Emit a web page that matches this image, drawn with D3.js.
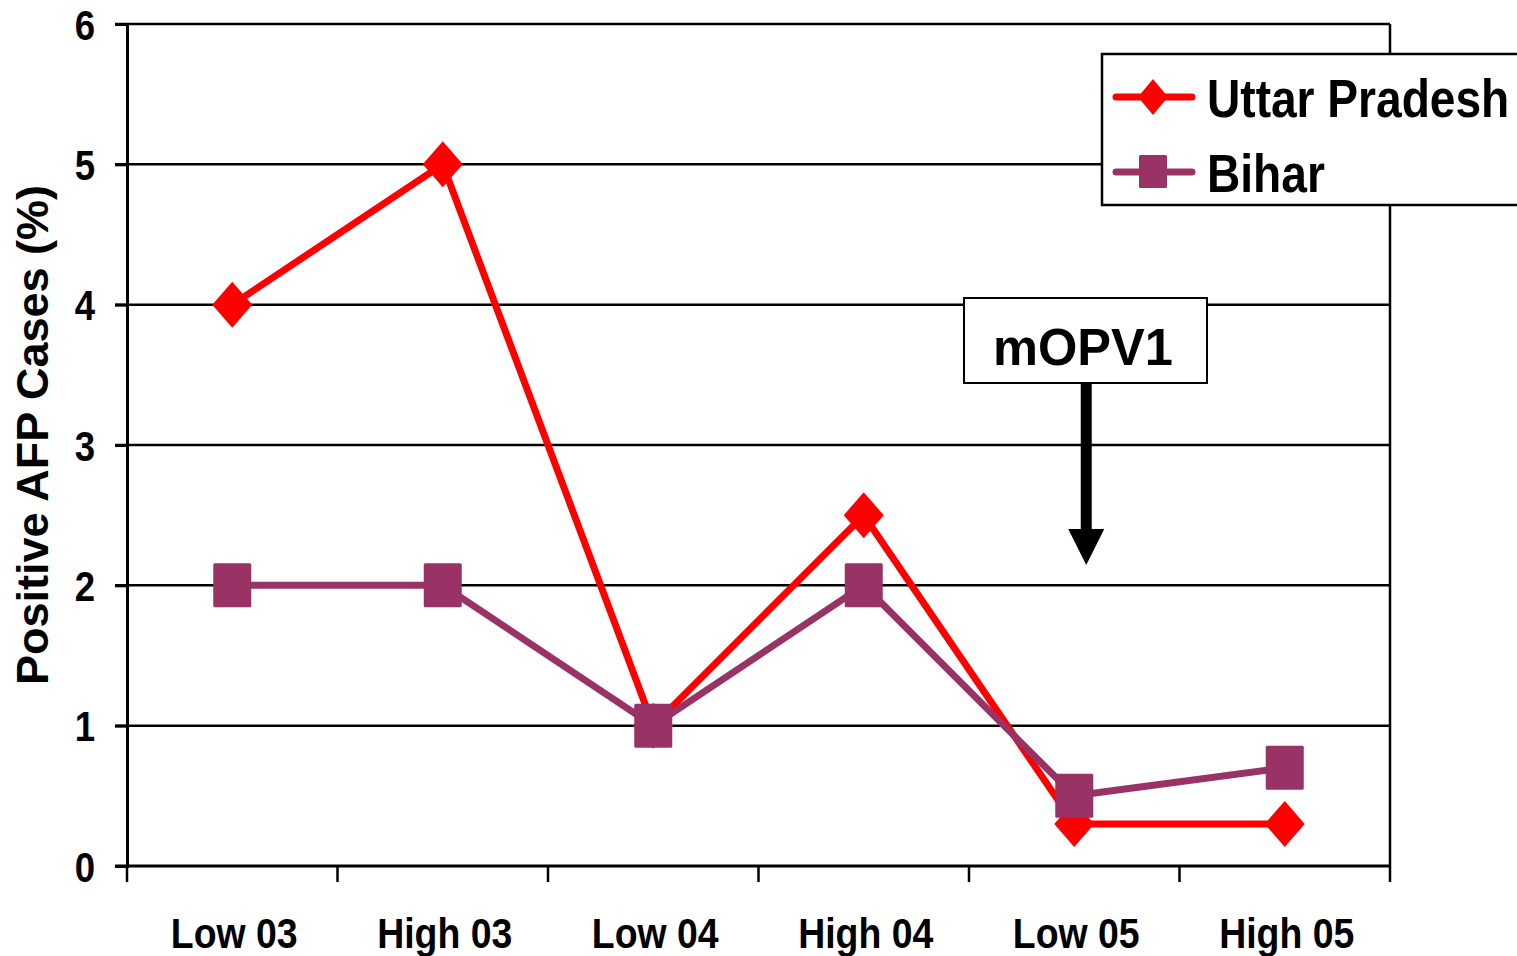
<!DOCTYPE html>
<html>
<head>
<meta charset="utf-8">
<script src="https://cdn.jsdelivr.net/npm/d3@7"></script>
<style>
  html, body { margin: 0; padding: 0; background: #fff; }
  svg { display: block; }
  text { font-family: Arial, "Liberation Sans", sans-serif; font-weight: bold; fill: #000; }
</style>
</head>
<body>
<svg id="chart" width="1517" height="956"></svg>
<script>
// Survey rounds along the x axis
const categories = ["Low 03", "High 03", "Low 04", "High 04", "Low 05", "High 05"];
// Share of AFP cases testing positive, per state
const uttarPradesh = [4, 5, 1, 2.5, 0.3, 0.3];
const bihar = [2, 2, 1, 2, 0.5, 0.7];
const seriesNames = ["Uttar Pradesh", "Bihar"];
const yTicks = [0, 1, 2, 3, 4, 5, 6];
const yTitle = "Positive AFP Cases (%)";
const annotation = "mOPV1";
const annotationAt = "Low 05";

const RED = "#ff0000";
const PURPLE = "#993366";
const SQUEEZE = 0.87; // narrow bold lettering

const svg = d3.select("#chart");
const L = 127, R = 1390, T = 24, B = 866;

const x = d3.scaleBand().domain(categories).range([L, R]);
const y = d3.scaleLinear().domain([0, 6]).range([B, T]);

// text helper with horizontal condensing
function label(g, str, px, py, size, anchor) {
  return g.append("text")
    .attr("transform", `translate(${px},${py}) scale(${SQUEEZE},1)`)
    .attr("text-anchor", anchor || "middle")
    .attr("font-size", size)
    .text(str);
}

// horizontal gridlines (with left tick stubs)
svg.append("g").selectAll("line").data(yTicks.filter(d => d > 0)).join("line")
  .attr("x1", L - 12).attr("x2", R)
  .attr("y1", d => y(d)).attr("y2", d => y(d))
  .attr("stroke", "#000").attr("stroke-width", 2.5);

// right border of the plot
svg.append("line").attr("x1", R).attr("x2", R).attr("y1", T).attr("y2", B)
  .attr("stroke", "#000").attr("stroke-width", 2.5);

// y axis
const yAxis = svg.append("g").attr("transform", `translate(${L},0)`)
  .call(d3.axisLeft(y).tickValues(yTicks).tickSize(12).tickPadding(0).tickFormat(d3.format("d")));
yAxis.select(".domain").attr("stroke", "#000").attr("stroke-width", 3);
yAxis.selectAll(".tick line").attr("stroke", "#000").attr("stroke-width", 3);
yAxis.selectAll(".tick text").remove();
yAxis.selectAll(".tick").each(function(d) {
  label(d3.select(this), d, -32, 15, 42, "end");
});

// x axis: boundary ticks between categories
const boundaries = categories.map(c => x(c)).concat([R]);
svg.append("line").attr("x1", L - 12).attr("x2", R).attr("y1", B).attr("y2", B)
  .attr("stroke", "#000").attr("stroke-width", 3);
svg.append("g").selectAll("line").data(boundaries).join("line")
  .attr("x1", d => d).attr("x2", d => d)
  .attr("y1", B).attr("y2", B + 16)
  .attr("stroke", "#000").attr("stroke-width", 2.5);
const xl = svg.append("g");
categories.forEach(c => label(xl, c, x(c) + x.bandwidth() / 2 + 2, 948, 43));

// y axis title
svg.append("text")
  .attr("transform", `translate(48,${(185 + 685) / 2}) rotate(-90)`)
  .attr("text-anchor", "middle")
  .attr("font-size", 44)
  .attr("textLength", 500).attr("lengthAdjust", "spacingAndGlyphs")
  .text(yTitle);

const cx = d => x(d) + x.bandwidth() / 2;
const line = d3.line().x((d, i) => cx(categories[i])).y(d => y(d));

// Uttar Pradesh series
svg.append("path").datum(uttarPradesh)
  .attr("d", line).attr("fill", "none")
  .attr("stroke", RED).attr("stroke-width", 7).attr("stroke-linejoin", "round");
svg.append("g").selectAll("path").data(uttarPradesh).join("path")
  .attr("d", (d, i) => {
    const px = cx(categories[i]), py = y(d);
    return `M${px},${py - 23}L${px + 20},${py}L${px},${py + 23}L${px - 20},${py}Z`;
  })
  .attr("fill", RED);

// Bihar series
svg.append("path").datum(bihar)
  .attr("d", line).attr("fill", "none")
  .attr("stroke", PURPLE).attr("stroke-width", 7).attr("stroke-linejoin", "round");
svg.append("g").selectAll("rect").data(bihar).join("rect")
  .attr("x", (d, i) => cx(categories[i]) - 19)
  .attr("y", d => y(d) - 22)
  .attr("width", 38).attr("height", 44)
  .attr("rx", 1.5)
  .attr("fill", PURPLE);

// mOPV1 annotation with arrow
const ax = cx(annotationAt) + 12;
svg.append("rect").attr("x", 964).attr("y", 298).attr("width", 243).attr("height", 85)
  .attr("fill", "#fff").attr("stroke", "#000").attr("stroke-width", 2);
svg.append("text").attr("x", 1083).attr("y", 365).attr("text-anchor", "middle")
  .attr("font-size", 52).attr("textLength", 180).attr("lengthAdjust", "spacingAndGlyphs")
  .text(annotation);
svg.append("rect").attr("x", ax - 5.5).attr("y", 383).attr("width", 11).attr("height", 148)
  .attr("fill", "#000");
svg.append("path")
  .attr("d", `M${ax - 18},529L${ax + 18},529L${ax},565Z`)
  .attr("fill", "#000");

// legend
const lg = svg.append("g");
lg.append("rect").attr("x", 1102).attr("y", 54).attr("width", 440).attr("height", 151)
  .attr("fill", "#fff").attr("stroke", "#000").attr("stroke-width", 2.5);
const legendItems = [
  { name: seriesNames[0], color: RED, cy: 97, shape: "diamond" },
  { name: seriesNames[1], color: PURPLE, cy: 172, shape: "square" }
];
legendItems.forEach(it => {
  lg.append("line").attr("x1", 1116).attr("x2", 1192).attr("y1", it.cy).attr("y2", it.cy)
    .attr("stroke", it.color).attr("stroke-width", 7).attr("stroke-linecap", "round");
  if (it.shape === "diamond") {
    lg.append("path")
      .attr("d", `M1153,${it.cy - 18}L1168,${it.cy}L1153,${it.cy + 18}L1138,${it.cy}Z`)
      .attr("fill", it.color);
  } else {
    lg.append("rect").attr("x", 1139).attr("y", it.cy - 17).attr("width", 28).attr("height", 33)
      .attr("rx", 1.5).attr("fill", it.color);
  }
  label(lg, it.name, 1207, it.cy + 20, 53, "start");
});
</script>
</body>
</html>
